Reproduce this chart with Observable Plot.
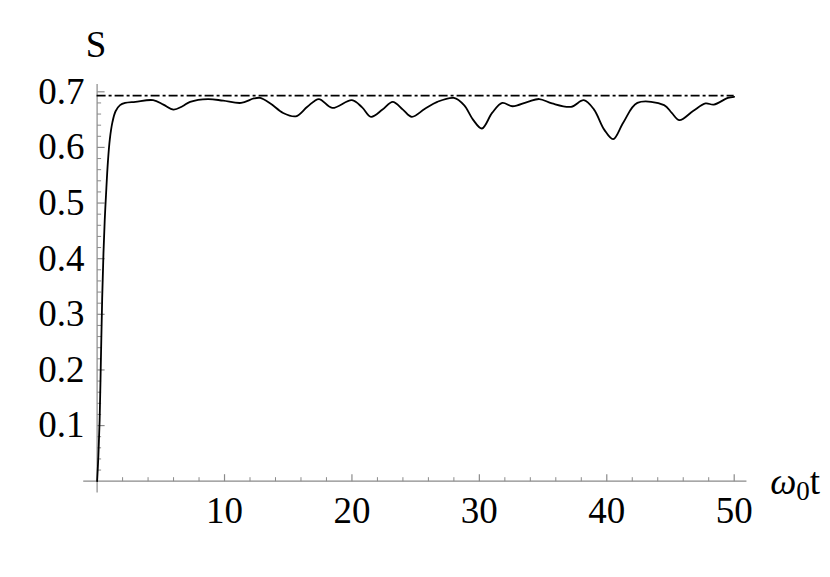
<!DOCTYPE html>
<html>
<head>
<meta charset="utf-8">
<script src="https://cdn.jsdelivr.net/npm/d3@7"></script>
<script src="https://cdn.jsdelivr.net/npm/@observablehq/plot@0.6"></script>
<style>
  html, body { margin: 0; padding: 0; background: #fff; }
</style>
</head>
<body>
<div id="chart"></div>
<script>
// ---- data ----
const times = [0, 0.1, 0.2, 0.3, 0.4, 0.5, 0.6, 0.7, 0.85, 1.0, 1.2, 1.45, 1.8, 2.2, 3.0,
  4.4, 5.2, 6.0, 6.7, 7.3, 8.7, 9.9, 11.3, 12.3, 12.8, 13.6, 14.6, 15.6, 16.5, 17.4,
  18.45, 20.0, 20.8, 21.5, 22.4, 23.2, 24.0, 24.7, 25.7, 26.7, 28.0, 28.8, 29.5, 30.2,
  31.0, 31.8, 32.6, 33.8, 34.7, 35.7, 37.2, 38.2, 39.0, 39.8, 40.5, 41.3, 42.4, 44.5,
  45.1, 45.7, 46.8, 47.75, 48.4, 49.5, 50];
const entropy = [0, 0.045, 0.11, 0.22, 0.33, 0.41, 0.47, 0.515, 0.575, 0.615, 0.645, 0.665, 0.676, 0.680, 0.682,
  0.685, 0.677, 0.668, 0.674, 0.682, 0.687, 0.684, 0.680, 0.688, 0.689, 0.679, 0.662, 0.656, 0.673, 0.687,
  0.671, 0.685, 0.672, 0.655, 0.668, 0.682, 0.668, 0.655, 0.669, 0.682, 0.689, 0.676, 0.650, 0.634,
  0.662, 0.680, 0.674, 0.682, 0.687, 0.679, 0.673, 0.685, 0.668, 0.632, 0.615, 0.645, 0.680, 0.676,
  0.662, 0.649, 0.666, 0.679, 0.677, 0.689, 0.691];
const limitValue = [Math.LN2];            // dot-dashed reference level ln 2
const limitRange = [0, 50];
const xMajorTicks = [10, 20, 30, 40, 50];
const xMinorTicks = [2, 4, 6, 8, 12, 14, 16, 18, 22, 24, 26, 28, 32, 34, 36, 38, 42, 44, 46, 48];
const yMajorTicks = [0.1, 0.2, 0.3, 0.4, 0.5, 0.6, 0.7];
const yMinorTicks = [0.02, 0.04, 0.06, 0.08, 0.12, 0.14, 0.16, 0.18, 0.22, 0.24, 0.26, 0.28,
  0.32, 0.34, 0.36, 0.38, 0.42, 0.44, 0.46, 0.48, 0.52, 0.54, 0.56, 0.58, 0.62, 0.64, 0.66, 0.68];
const xAxisExtent = [-1.05, 51];
const yAxisExtent = [-0.021, 0.713];
const yLabel = ["S"];
const xLabel = ["ω0t"];

const table = times.map((t, i) => ({t, s: entropy[i]}));

// tick glyphs (length = r)
const tickUp = {draw(ctx, size) { const l = Math.sqrt(size / Math.PI); ctx.moveTo(0, 0); ctx.lineTo(0, -l); }};
const tickRight = {draw(ctx, size) { const l = Math.sqrt(size / Math.PI); ctx.moveTo(0, 0); ctx.lineTo(l, 0); }};

const gray = "#8a8a8a";
const font = "'Liberation Serif', 'Times New Roman', serif";

const chart = Plot.plot({
  width: 830,
  height: 577,
  marginLeft: 96.6,
  marginRight: 96.3,
  marginTop: 91.3,
  marginBottom: 96.3,
  x: {domain: [0, 50], axis: null},
  y: {domain: [0, 0.7], axis: null},
  style: {fontFamily: font, fontSize: "37px", background: "#fff", color: "#000", overflow: "visible"},
  marks: [
    // axis lines
    Plot.ruleY([0], {x1: xAxisExtent[0], x2: xAxisExtent[1], stroke: gray, strokeWidth: 1.2}),
    Plot.ruleX([0], {y1: yAxisExtent[0], y2: yAxisExtent[1], stroke: gray, strokeWidth: 1.2}),
    // ticks
    Plot.dot(xMajorTicks, {x: d => d, y: 0, r: 7, symbol: tickUp, stroke: gray, fill: "none", strokeWidth: 1.2}),
    Plot.dot(xMinorTicks, {x: d => d, y: 0, r: 4, symbol: tickUp, stroke: gray, fill: "none", strokeWidth: 1}),
    Plot.dot(yMajorTicks, {x: 0, y: d => d, r: 7.5, symbol: tickRight, stroke: gray, fill: "none", strokeWidth: 1.2}),
    Plot.dot(yMinorTicks, {x: 0, y: d => d, r: 4, symbol: tickRight, stroke: gray, fill: "none", strokeWidth: 1}),
    // tick labels
    Plot.text(xMajorTicks, {x: d => d, y: 0, text: d => String(d), dy: 30, lineAnchor: "middle", textAnchor: "middle", fill: "#000"}),
    Plot.text(yMajorTicks, {x: 0, y: d => d, text: d => d3.format(".1f")(d), dx: -12.5, lineAnchor: "middle", textAnchor: "end", fill: "#000"}),
    // axis labels
    Plot.text(yLabel, {frameAnchor: "top-left", dx: -1, dy: -47, lineAnchor: "middle", textAnchor: "middle", fill: "#000"}),
    Plot.text(xLabel, {frameAnchor: "bottom-right", dx: 36, dy: 1, lineAnchor: "middle", textAnchor: "start", fill: "#000"}),
    // reference level
    Plot.ruleY(limitValue, {x1: limitRange[0], x2: limitRange[1], stroke: "#000", strokeWidth: 1.7, strokeDasharray: "9,3,3,3"}),
    // entropy curve
    Plot.line(table, {x: "t", y: "s", curve: "catmull-rom", stroke: "#000", strokeWidth: 1.8})
  ]
});

document.getElementById("chart").appendChild(chart);

// subscript in the x label: ω₀t
const lab = Array.from(chart.querySelectorAll("text")).find(el => el.textContent === xLabel[0]);
if (lab) {
  const ns = "http://www.w3.org/2000/svg";
  lab.textContent = "";
  const a = document.createElementNS(ns, "tspan"); a.textContent = "ω"; a.setAttribute("font-style", "italic");
  const b = document.createElementNS(ns, "tspan"); b.textContent = "0"; b.setAttribute("font-size", "27px"); b.setAttribute("dy", "6");
  const c = document.createElementNS(ns, "tspan"); c.textContent = "t"; c.setAttribute("dy", "-6");
  lab.append(a, b, c);
}
</script>
</body>
</html>
